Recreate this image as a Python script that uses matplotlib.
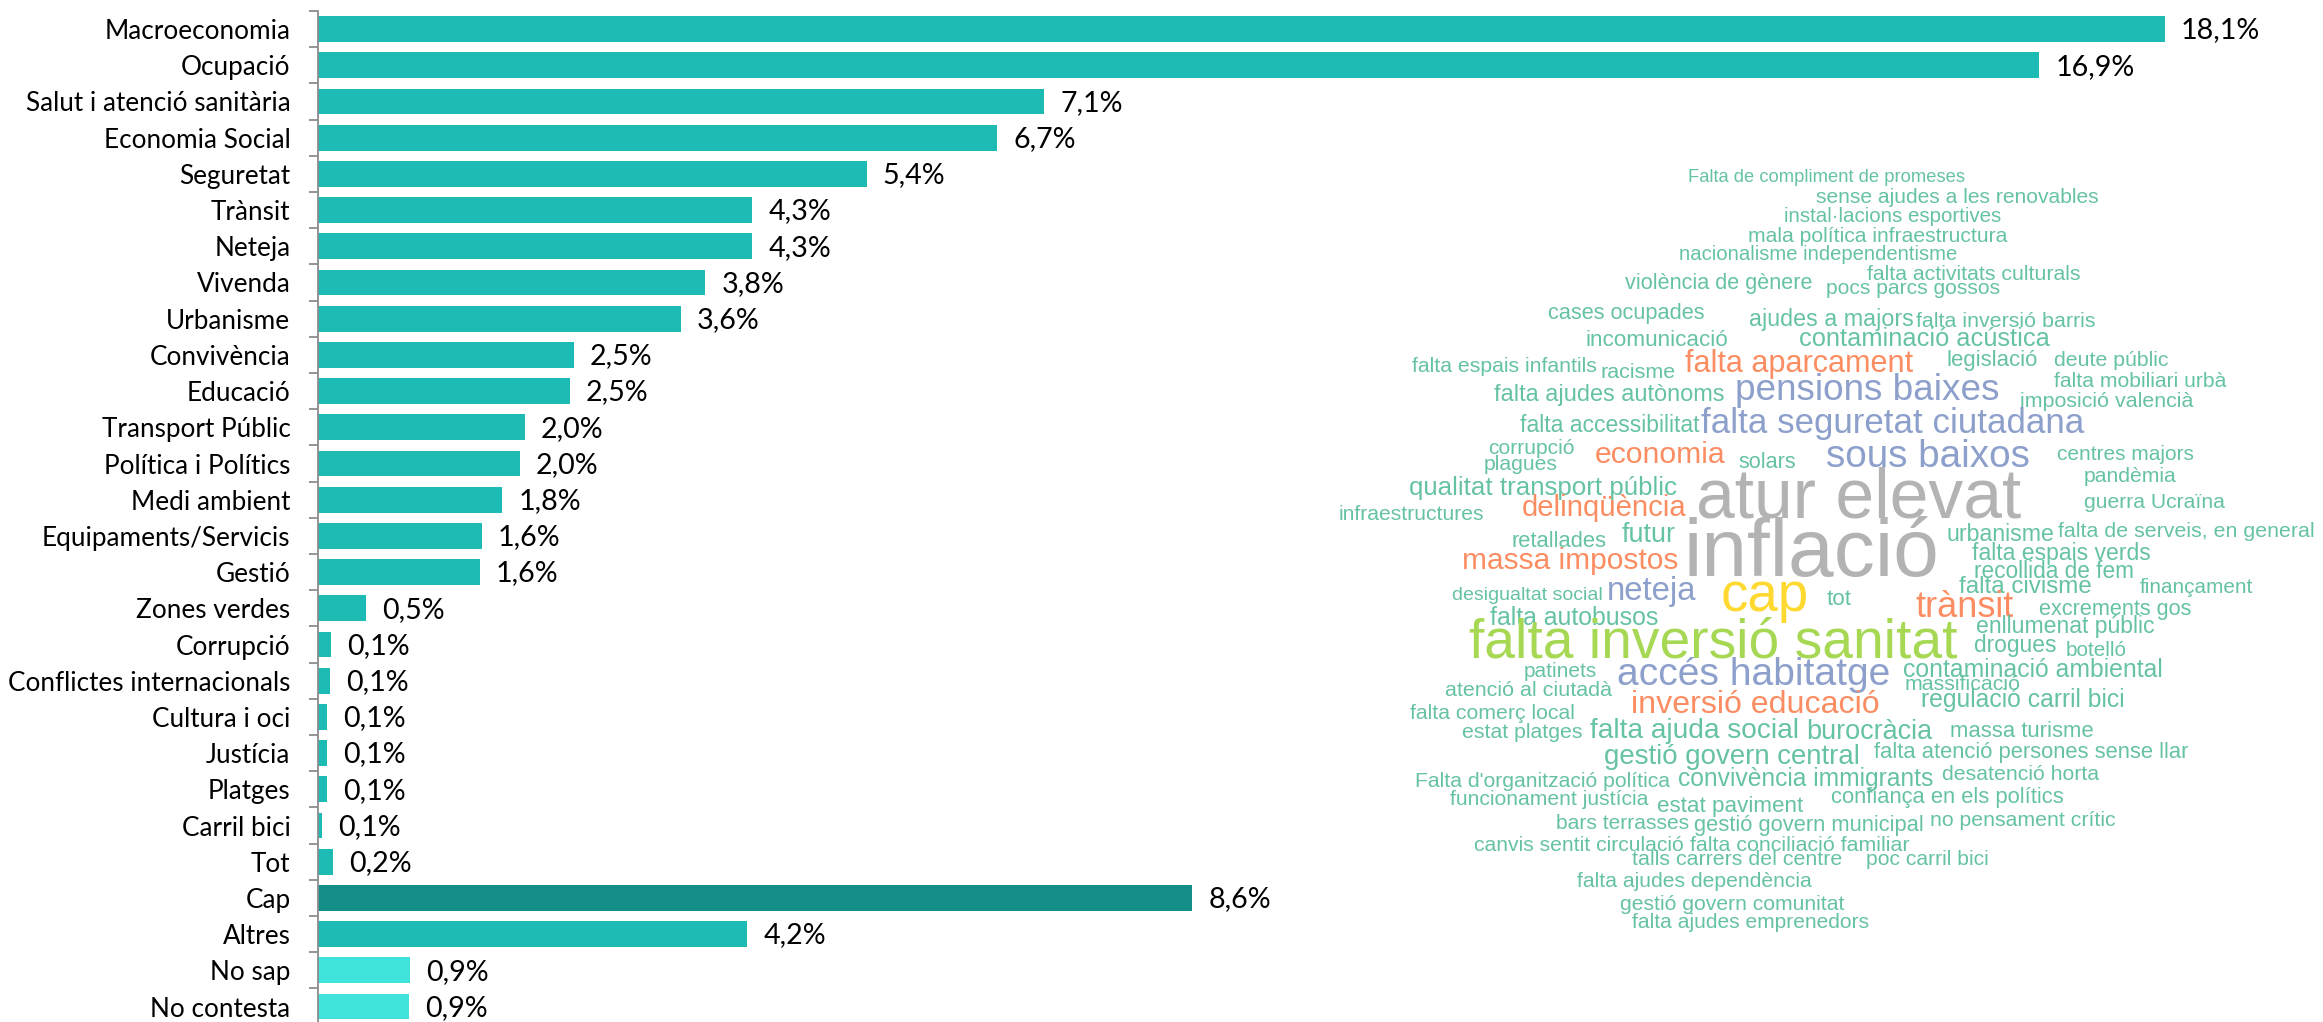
import numpy as np
import matplotlib
matplotlib.use("Agg")
import matplotlib.pyplot as plt

# ---------------- data ----------------
categories = ["Macroeconomia", "Ocupació", "Salut i atenció sanitària", "Economia Social",
              "Seguretat", "Trànsit", "Neteja", "Vivenda", "Urbanisme", "Convivència",
              "Educació", "Transport Públic", "Política i Polítics", "Medi ambient",
              "Equipaments/Servicis", "Gestió", "Zones verdes", "Corrupció",
              "Conflictes internacionals", "Cultura i oci", "Justícia", "Platges",
              "Carril bici", "Tot", "Cap", "Altres", "No sap", "No contesta"]
values = [18.10, 16.87, 7.12, 6.66, 5.38, 4.26, 4.26, 3.80, 3.56, 2.51,
          2.47, 2.03, 1.98, 1.81, 1.61, 1.59, 0.48, 0.13,
          0.12, 0.095, 0.09, 0.09, 0.047, 0.15, 8.57, 4.21, 0.91, 0.90]
value_labels = ["18,1%", "16,9%", "7,1%", "6,7%", "5,4%", "4,3%", "4,3%", "3,8%", "3,6%", "2,5%",
                "2,5%", "2,0%", "2,0%", "1,8%", "1,6%", "1,6%", "0,5%", "0,1%",
                "0,1%", "0,1%", "0,1%", "0,1%", "0,1%", "0,2%", "8,6%", "4,2%", "0,9%", "0,9%"]
bar_groups = ["tema"] * 24 + ["cap", "tema", "nsnc", "nsnc"]

words = ["Falta de compliment de promeses", "sense ajudes a les renovables", "instal·lacions esportives",
         "mala política infraestructura", "nacionalisme independentisme", "falta activitats culturals",
         "violència de gènere", "pocs parcs gossos", "cases ocupades", "ajudes a majors",
         "falta inversió barris", "incomunicació", "contaminació acústica", "falta espais infantils",
         "racisme", "falta aparcament", "legislació", "deute públic", "falta mobiliari urbà",
         "pensions baixes", "falta ajudes autònoms", "imposició valencià", "falta accessibilitat",
         "falta seguretat ciutadana", "corrupció", "plagues", "economia", "solars", "sous baixos",
         "centres majors", "pandèmia", "qualitat transport públic", "atur elevat", "guerra Ucraïna",
         "infraestructures", "delinqüència", "retallades", "futur", "inflació", "urbanisme",
         "falta de serveis, en general", "falta espais verds", "massa impostos", "recollida de fem",
         "falta civisme", "finançament", "desigualtat social", "neteja", "cap", "tot", "trànsit",
         "excrements gos", "falta autobusos", "enllumenat públic", "falta inversió sanitat",
         "drogues", "botelló", "patinets", "accés habitatge", "contaminació ambiental",
         "atenció al ciutadà", "massificació", "inversió educació", "regulació carril bici",
         "falta comerç local", "estat platges", "falta ajuda social", "burocràcia", "massa turisme",
         "gestió govern central", "falta atenció persones sense llar", "Falta d'organització política",
         "convivència immigrants", "desatenció horta", "funcionament justícia", "estat paviment",
         "confiança en els polítics", "bars terrasses", "gestió govern municipal",
         "no pensament crític", "canvis sentit circulació", "falta conciliació familiar",
         "talls carrers del centre", "poc carril bici", "falta ajudes dependència",
         "gestió govern comunitat", "falta ajudes emprenedors"]
word_groups = ["g", "g", "g", "g", "g", "g", "g", "g", "g", "g",          # 0-9
               "g", "g", "g", "g", "g", "o", "g", "g", "g", "b",          # 10-19
               "g", "g", "g", "b", "g", "g", "o", "g", "b", "g",          # 20-29
               "g", "g", "gray", "g", "g", "o", "g", "g", "gray", "g",    # 30-39
               "g", "g", "o", "g", "g", "g", "g", "b", "y", "g",          # 40-49
               "o", "g", "g", "g", "lime", "g", "g", "g", "b", "g",       # 50-59
               "g", "g", "o", "g", "g", "g", "g", "g", "g", "g",          # 60-69
               "g", "g", "g", "g", "g", "g", "g", "g", "g", "g",          # 70-79
               "g", "g", "g", "g", "g", "g", "g"]                         # 80-86

# ---------------- layout (reference pixels) ----------------
W, H = 2323, 1022
word_boxes = [  # (left, right, vertical centre)
    (1687.6, 1965, 177), (1815.9, 2099.4, 197.3), (1783.5, 2001, 216.7),
    (1746.9, 2008.3, 236.7), (1678.6, 1958, 255), (1866.8, 2081.4, 274.3),
    (1624.6, 1812.9, 284), (1826.6, 2000, 288.3), (1547.9, 1705.5, 313.3), (1748.7, 1913.6, 319.3),
    (1915.4, 2096.4, 321.3), (1585.6, 1728.9, 340), (1799.7, 2050, 339.3), (1411.2, 1597, 366.7),
    (1600.6, 1676.2, 372.7), (1684.6, 1913.6, 364), (1946.5, 2037.7, 360.7), (2054.5, 2169, 360),
    (2053.3, 2227.1, 381.7), (1734.9, 1999.3, 391), (1493.9, 1724.7, 395), (2019.7, 2194.2, 401.7),
    (1519.1, 1699.5, 425), (1700.7, 2085, 423.3), (1487.9, 1574.8, 448.3), (1483.7, 1557.5, 465),
    (1594.6, 1726, 455), (1738, 1796, 462.7), (1826.6, 2030, 456.7), (2056.3, 2193.6, 454),
    (2083.2, 2176.2, 476), (1408.8, 1676.8, 487.7), (1694.7, 2022, 500), (2083.2, 2225.3, 502.7),
    (1338, 1485, 514), (1522.1, 1687, 508.3), (1510.7, 1606.6, 541.7), (1621, 1675.6, 535),
    (1682.8, 1940.6, 555), (1946.5, 2054.5, 534), (2057.5, 2315.3, 531.7), (1971.7, 2151.6, 553.3),
    (1462.7, 1678, 560.7), (1973.5, 2134.2, 571.7), (1958.5, 2092.2, 586.7), (2139.6, 2253.5, 587.3),
    (1451.9, 1602, 595), (1607, 1697, 591.7), (1721, 1809, 597), (1827, 1852, 599.3),
    (1915.4, 2014.3, 607.3), (2038.3, 2191.1, 609.3), (1489.7, 1658.8, 618.3), (1975.3, 2154.6, 626),
    (1468.7, 1958.5, 643.3), (1973.5, 2056.3, 645), (2065.3, 2126.4, 650.7), (1523.9, 1597, 671.7),
    (1616.8, 1890.8, 675), (1902.8, 2163.6, 670), (1444.1, 1612, 690), (1904.6, 2021.5, 684.3),
    (1630.6, 1880.6, 705), (1919.6, 2126.4, 700), (1408.8, 1576, 713), (1462.1, 1582.6, 732.3),
    (1589.8, 1799.7, 730.7), (1805.7, 1932.8, 731.7), (1949.5, 2093.4, 731.7), (1603, 1861.4, 757.3),
    (1873.4, 2189.4, 752.7), (1414.2, 1670.8, 781.7), (1676.8, 1934.6, 779.3), (1941.7, 2099.4, 774),
    (1449, 1648.6, 799), (1657, 1802.7, 806), (1830.8, 2064.7, 797.3), (1555.7, 1688.8, 823.3),
    (1693, 1923.8, 825.7), (1930.4, 2116.2, 820.7), (1472.9, 1684.6, 845.7), (1688.8, 1910.6, 845),
    (1631.8, 1843.4, 859.3), (1865.6, 1989.7, 859.3), (1576.6, 1812.9, 881), (1619.8, 1844.6, 904),
    (1631.8, 1869.8, 922.7)]

bar_colors = {"tema": "#1DBBB4", "cap": "#148E89", "nsnc": "#3FE3DB"}
word_colors = {"g": "#66C2A5", "o": "#FC8D62", "b": "#8DA0CB", "lime": "#A6D854",
               "y": "#FFD92F", "gray": "#B3B3B3"}

LABEL_FONT = ["Lato", "DejaVu Sans"]
WORD_FONT = ["Liberation Sans", "DejaVu Sans"]

axis_x = 317.5
px_per_unit = 102.07
top_px, slot_px = 11.0, 36.2

fig = plt.figure(figsize=(W / 100, H / 100), dpi=100)
n = len(categories)
ax_h = n * slot_px
ax = fig.add_axes([axis_x / W, 1 - (top_px + ax_h) / H, 1 - axis_x / W, ax_h / H])
ypos = np.arange(n)
ax.barh(ypos, values, height=0.71, color=[bar_colors[g] for g in bar_groups], linewidth=0)
ax.set_ylim(n - 0.5, -0.5)
ax.set_xlim(0, (W - axis_x) / px_per_unit)
ax.set_yticks(ypos)
ax.set_yticklabels(categories, fontfamily=LABEL_FONT, fontsize=18.8, color="black")
ax.set_yticks(np.arange(n + 1) - 0.5, minor=True)
ax.tick_params(axis="y", which="major", length=0, pad=19.5)
ax.tick_params(axis="y", which="minor", length=6.5, width=1.3, color="#8C8C8C")
ax.set_xticks([])
for s in ["top", "right", "bottom"]:
    ax.spines[s].set_visible(False)
ax.spines["left"].set_color("#8C8C8C")
ax.spines["left"].set_linewidth(1.3)
ax.patch.set_alpha(0)

for yi, v, lab in zip(ypos, values, value_labels):
    ax.annotate(lab, (v, yi), xytext=(11.5, -1.0), textcoords="offset points",
                ha="left", va="center", fontsize=20.6, fontfamily=LABEL_FONT, color="black")

# ---------------- word cloud ----------------
renderer = fig.canvas.get_renderer()
for w, g, (x0, x1, yc) in zip(words, word_groups, word_boxes):
    t = fig.text((x0 + x1) / 2 / W, 1 - yc / H, w, ha="center", va="center",
                 fontsize=10, color=word_colors[g], fontfamily=WORD_FONT)
    bb = t.get_window_extent(renderer)
    t.set_fontsize(10 * (x1 - x0) / bb.width)

fig.savefig("out.png", dpi=100)
